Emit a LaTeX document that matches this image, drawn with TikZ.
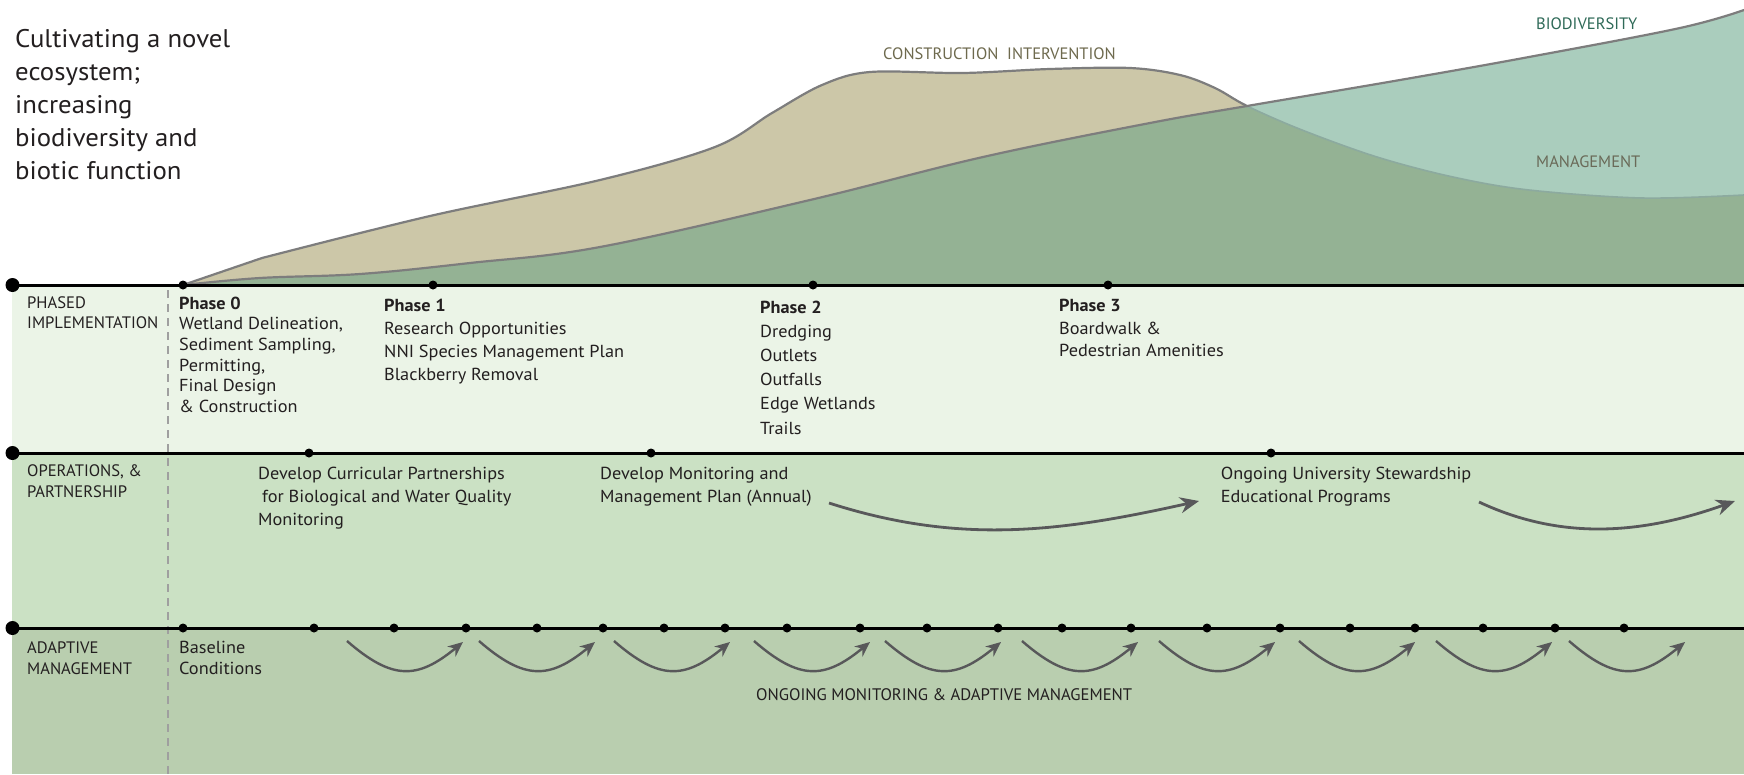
\documentclass[tikz,border=0pt]{standalone}
\usepackage{fontspec}
\setmainfont{PT Sans}
\newfontfamily\bodyfont{PT Sans}[FakeStretch=1.05]
\usetikzlibrary{arrows.meta}

\definecolor{bandone}{HTML}{EBF4E7}
\definecolor{bandtwo}{HTML}{CBE1C4}
\definecolor{bandthree}{HTML}{B9CEAF}
\definecolor{tanfill}{HTML}{CCC7A8}
\definecolor{greenfill}{HTML}{94B294}
\definecolor{tealfill}{HTML}{AACDBD}
\definecolor{curvegray}{HTML}{7D7D7D}
\definecolor{mgmtgray}{HTML}{8CAA9F}
\definecolor{arrowgray}{HTML}{58585A}
\definecolor{constrtext}{HTML}{6E6A4E}
\definecolor{biotext}{HTML}{2F6A58}
\definecolor{mgmttext}{HTML}{6A6A58}
\definecolor{inktext}{HTML}{231F20}

% curves of the upper chart, in pixel units
\newcommand{\biocurve}{plot[smooth,tension=0.6] coordinates {(183,285) (260,278) (360,274) (470,263) (600,247) (810,200) (983,157) (1150,123) (1247,106) (1400,80) (1529,57) (1680,28) (1744,10)}}
\newcommand{\buildcurve}{(183,285) -- (262,258) -- plot[smooth,tension=0.55] coordinates {(262,258) (430,216) (600,180) (715,147) (772,113) (822,85) (870,72) (963,73) (1050,69) (1130,68) (1180,75) (1215,88) (1247,106) (1302,130) (1377,157) (1453,177) (1529,190) (1642,198) (1744,195)}}

\begin{document}
\begin{tikzpicture}[%
      x=1pt, y=-1pt,
      axisline/.style={color=black, line width=3pt},
      curveline/.style={color=curvegray, line width=2.2pt},
      bigdot/.style={fill=black, radius=7},
      smalldot/.style={fill=black, radius=4.5},
      wave/.style={color=arrowgray, line width=2.8pt, -{Stealth[length=19pt,width=16pt]}},
      smallwave/.style={color=arrowgray, line width=2.4pt, -{Stealth[length=15pt,width=13pt]}},
      bodytext/.style={color=inktext, inner sep=0pt, anchor=base west, align=left},
      caplabel/.style={bodytext, font=\fontsize{16.6}{21}\selectfont},
      toplabel/.style={inner sep=0pt, anchor=base west, font=\fontsize{16.5}{20}\selectfont},
      ]
      \useasboundingbox (0,0) rectangle (1744,774);
      \fill [white] (0,0) rectangle (1744,774);

      % bands
      \fill [bandone] (12,285) rectangle (1744,453);
      \fill [bandtwo] (12,453) rectangle (1744,628);
      \fill [bandthree] (12,628) rectangle (1744,774);

      % upper chart
      \fill [tealfill] \biocurve -- (1744,285) -- cycle;
      \fill [tanfill] \buildcurve -- (1744,285) -- cycle;
      \begin{scope}
        \clip \biocurve -- (1744,285) -- cycle;
        \fill [greenfill] \buildcurve -- (1744,285) -- cycle;
      \end{scope}
      \begin{scope}
        \clip (0,0) rectangle (1247,290);
        \draw [curveline] \buildcurve;
      \end{scope}
      \begin{scope}
        \clip (1247,0) rectangle (1744,290);
        \draw [color=mgmtgray, line width=1.6pt] \buildcurve;
      \end{scope}
      \draw [curveline] \biocurve;

      \node [toplabel, color=constrtext] (constrlbl) at (883,59.3) {CONSTRUCTION\ \ INTERVENTION};
      \node [toplabel, color=biotext] (biolbl) at (1536,29.3) {BIODIVERSITY};
      \node [toplabel, color=mgmttext] (mgmtlbl) at (1536,167.7) {MANAGEMENT};

      % base anchor sits on the last line
      \node [bodytext, font=\bodyfont\fontsize{25.5}{33}\selectfont] (title) at (15,179) {Cultivating a novel\\ecosystem;\\increasing\\biodiversity and\\biotic function};

      % dashed divider
      \coordinate (divtop) at (168,290);
      \coordinate (divbot) at (168,774);
      \draw [color=gray!75, line width=2pt, dash pattern=on 8pt off 6pt] (divtop) -- (divbot);

      % time lines
      \coordinate (phasestart) at (12.5,285);
      \coordinate (phaseend) at (1744,285);
      \coordinate (opsstart) at (12.5,453);
      \coordinate (opsend) at (1744,453);
      \coordinate (adaptstart) at (12.5,628);
      \coordinate (adaptend) at (1744,628);
      \draw [axisline] (phasestart) -- (phaseend);
      \draw [axisline] (opsstart) -- (opsend);
      \draw [axisline] (adaptstart) -- (adaptend);
      \fill [bigdot] (phasestart) circle;
      \fill [bigdot] (opsstart) circle;
      \fill [bigdot] (adaptstart) circle;

      \foreach \px in {183,433,813,1108}
        \fill [smalldot] (\px,285) circle;
      \foreach \px in {309,651,1271}
        \fill [smalldot] (\px,453) circle;
      \foreach \px in {183,314,394,466,537,603,664,725,787,860,927,998,1062,1131,1207,1280,1350,1415,1483,1555,1624}
        \fill [smalldot] (\px,628) circle;

      % row labels
      \node [caplabel, font=\fontsize{16.6}{20}\selectfont] (phasedlbl) at (27,328.3) {PHASED\\IMPLEMENTATION};
      \node [caplabel] (opslbl) at (27,497.7) {OPERATIONS, \&\\PARTNERSHIP};
      \node [caplabel] (adaptlbl) at (27,674.3) {ADAPTIVE\\MANAGEMENT};

      % phases
      \node [bodytext, font=\bodyfont\fontsize{17.4}{20.7}\selectfont] (phase0) at (179,412.5) {\textbf{Phase 0}\\Wetland Delineation,\\Sediment Sampling,\\Permitting,\\Final Design\\\& Construction};
      \node [bodytext, font=\bodyfont\fontsize{17.4}{22.8}\selectfont] (phase1) at (384,380.1) {\textbf{Phase 1}\\Research Opportunities\\NNI Species Management Plan\\Blackberry Removal};
      \node [bodytext, font=\bodyfont\fontsize{17.4}{24.2}\selectfont] (phase2) at (760,434) {\textbf{Phase 2}\\Dredging\\Outlets\\Outfalls\\Edge Wetlands\\Trails};
      \node [bodytext, font=\bodyfont\fontsize{17.4}{22.5}\selectfont] (phase3) at (1059,356.7) {\textbf{Phase 3}\\Boardwalk \&\\Pedestrian Amenities};

      % operations
      \node [bodytext, font=\bodyfont\fontsize{17.4}{23}\selectfont] (curricular) at (258,525.3) {Develop Curricular Partnerships\\\hspace{4pt}for Biological and Water Quality\\Monitoring};
      \node [bodytext, font=\bodyfont\fontsize{17.4}{23}\selectfont] (monplan) at (600,502.3) {Develop Monitoring and\\Management Plan (Annual)};
      \node [bodytext, font=\bodyfont\fontsize{17.4}{23}\selectfont] (stewardship) at (1220.6,502.3) {Ongoing University Stewardship\\Educational Programs};

      \coordinate (waveAa) at (829,503);
      \coordinate (waveAb) at (1199,501);
      \coordinate (waveBa) at (1479,502);
      \coordinate (waveBb) at (1735,501);
      \draw [wave] (waveAa) .. controls (960,545) and (1060,532) .. (waveAb);
      \draw [wave] (waveBa) .. controls (1560,540) and (1640,535) .. (waveBb);

      % adaptive management
      \node [bodytext, font=\bodyfont\fontsize{17.4}{21}\selectfont] (baseline) at (179,674.3) {Baseline\\Conditions};
      \node [bodytext, font=\fontsize{16.7}{21}\selectfont] (ongoing) at (756,700) {ONGOING MONITORING \& ADAPTIVE MANAGEMENT};

      \foreach \sx in {347,479,614,754,885,1022,1159,1299,1436,1569}
        \draw [smallwave] (\sx,641) .. controls ({\sx+45},680) and ({\sx+70},680) .. ({\sx+116},642);
      \end{tikzpicture}
\end{document}
